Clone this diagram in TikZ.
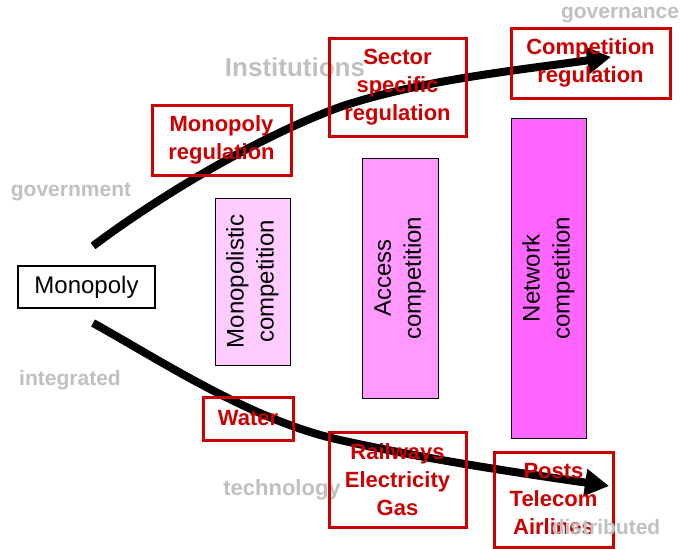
\documentclass[tikz,border=0pt]{standalone}
\usepackage{fontspec}
\setmainfont{Liberation Sans}
\usetikzlibrary{arrows.meta}
\definecolor{redbox}{HTML}{CC0000}
\definecolor{graytxt}{HTML}{C0C0C0}
\definecolor{pinkA}{HTML}{FFCCFF}
\definecolor{pinkB}{HTML}{FF99FF}
\definecolor{pinkC}{HTML}{FF66FF}
\begin{document}
\begin{tikzpicture}[x=1pt,y=-1pt,
  redframe/.style={draw=redbox,line width=3pt,inner sep=0pt,align=center,text=redbox,
    font=\fontsize{22}{28}\selectfont\bfseries},
  grayword/.style={text=graytxt,inner sep=0pt,font=\fontsize{21}{24}\selectfont\bfseries},
  pinkbar/.style={draw=black,line width=1pt,inner sep=0pt},
  barlabel/.style={rotate=90,align=center,inner sep=0pt,font=\fontsize{24}{30}\selectfont},
  trend/.style={line width=8pt,-{Triangle[length=24pt,width=26pt]}}
]
\useasboundingbox (0,0) rectangle (681,549);

% grey labels
\node[grayword] (gov) at (71,192) {government};
\node[grayword] (integ) at (70,380) {integrated};
\node[grayword,font=\fontsize{26}{30}\selectfont\bfseries] (inst) at (295,67) {Institutions};
\node[grayword] (govn) at (620,15) {governance};
\node[grayword,font=\fontsize{22}{26}\selectfont\bfseries] (tech) at (282,490) {technology};

% pink bars
\node[pinkbar,fill=pinkA,minimum width=75pt,minimum height=167pt] (b1) at (252.5,281.5) {};
\node[barlabel] (l1) at (b1.center) {Monopolistic\\competition};
\node[pinkbar,fill=pinkB,minimum width=76pt,minimum height=240pt] (b2) at (400,278) {};
\node[barlabel] (l2) at (b2.center) {Access\\competition};
\node[pinkbar,fill=pinkC,minimum width=75pt,minimum height=320pt] (b3) at (548.5,278) {};
\node[barlabel] (l3) at (b3.center) {Network\\competition};

% monopoly
\node[draw=black,line width=2pt,inner sep=0pt,minimum width=137pt,minimum height=42pt,
  font=\fontsize{24}{28}\selectfont] (mono) at (86.5,287) {Monopoly};

% arrows
\coordinate (u0) at (93,246);
\coordinate (um) at (340,107);
\coordinate (u5) at (611,57);
\draw[trend] (u0) .. controls (150,203) and (250,140) .. (um)
                  .. controls (420,80) and (520,70) .. (u5);

\coordinate (d0) at (93,323);
\coordinate (dm) at (340,440);
\coordinate (d6) at (609,486);
\draw[trend] (d0) .. controls (160,360) and (250,420) .. (dm)
                  .. controls (430,460) and (520,473) .. (d6);

% red boxes
\node[redframe,minimum width=139pt,minimum height=70pt] (mreg) at (221.5,140) {Monopoly\\regulation};
\node[redframe,minimum width=137pt,minimum height=98pt] (sreg) at (397.5,87) {Sector\\specific\\regulation};
\node[redframe,minimum width=159pt,minimum height=70pt] (creg) at (590.5,63) {Competition\\regulation};
\node[redframe,minimum width=90pt,minimum height=43pt] (water) at (248,418.5) {Water};
\node[redframe,minimum width=137pt,minimum height=95pt] (rail) at (397.5,479.5) {Railways\\Electricity\\Gas};
\node[redframe,minimum width=119pt,minimum height=95pt] (posts) at (553.5,499.5) {Posts\\Telecom\\Airlines};

\node[grayword] (distr) at (606,527) {distributed};
\end{tikzpicture}
\end{document}
